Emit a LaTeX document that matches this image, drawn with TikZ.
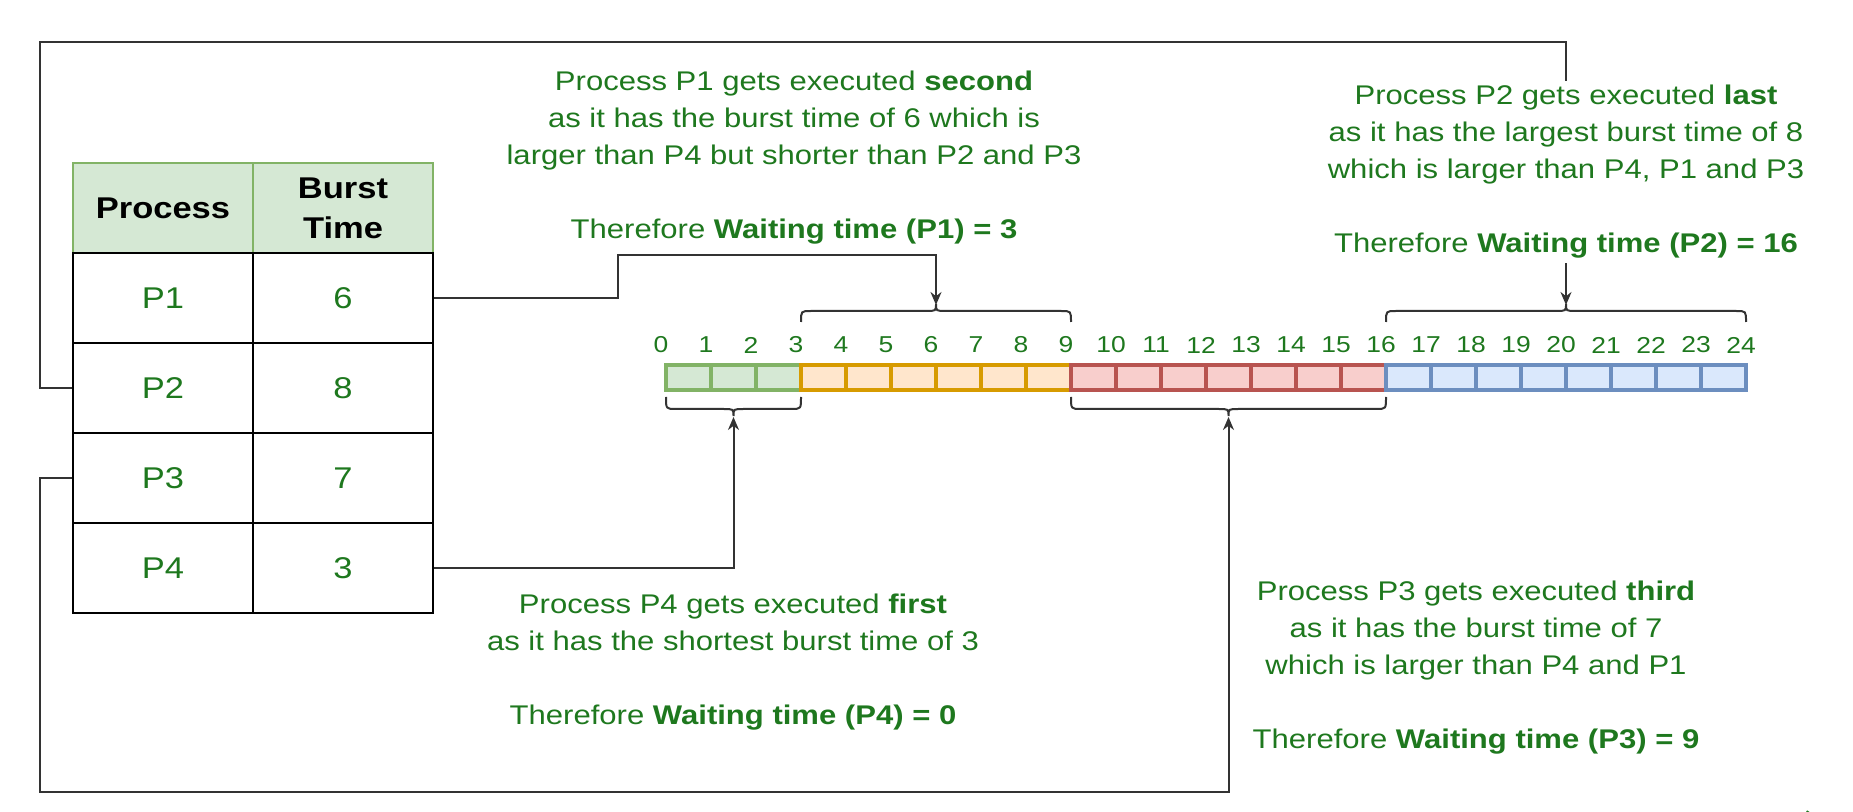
\documentclass[tikz,border=0pt]{standalone}
\usepackage{fontspec}
\setmainfont{Liberation Sans}[FakeStretch=1.15]
\usetikzlibrary{arrows.meta}
\definecolor{txtgreen}{RGB}{30,120,30}
\definecolor{gfill}{HTML}{D5E8D4}\definecolor{gdraw}{HTML}{82B366}
\definecolor{ofill}{HTML}{FFE6CC}\definecolor{odraw}{HTML}{D79B00}
\definecolor{rfill}{HTML}{F8CECC}\definecolor{rdraw}{HTML}{B85450}
\definecolor{bfill}{HTML}{DAE8FC}\definecolor{bdraw}{HTML}{6C8EBF}
\definecolor{linec}{HTML}{333333}
\begin{document}
\begin{tikzpicture}[x=0.5pt,y=-0.5pt,
  cell/.style={draw=black,line width=1.3pt,minimum width=90pt,minimum height=45pt,inner sep=0pt,
    font=\fontsize{15}{20}\selectfont,text=txtgreen,align=center},
  head/.style={cell,fill=gfill,draw=gdraw,text=black,font=\bfseries\fontsize{15}{20}\selectfont},
  tl/.style={minimum width=22.5pt,minimum height=12.5pt,inner sep=0pt,line width=1.7pt},
  num/.style={text=txtgreen,font=\fontsize{11.5}{13}\selectfont,inner sep=0pt},
  desc/.style={text=txtgreen,align=center,font=\fontsize{13.5}{18.5}\selectfont,inner sep=2pt},
  conn/.style={draw=linec,line width=1pt},
  arr/.style={conn,-{Stealth[length=6.5pt,width=5.5pt]}},
  br/.style={draw=linec,line width=1pt}]
\useasboundingbox (0,0) rectangle (1853,812);

% table
\node[head] (hp) at (163,208) {Process};
\node[head] (hb) at (343,208) {Burst\\Time};
\node[cell] (p1) at (163,298) {P1}; \node[cell] (b1) at (343,298) {6};
\node[cell] (p2) at (163,388) {P2}; \node[cell] (b2) at (343,388) {8};
\node[cell] (p3) at (163,478) {P3}; \node[cell] (b3) at (343,478) {7};
\node[cell] (p4) at (163,568) {P4}; \node[cell] (b4) at (343,568) {3};

% timeline
\foreach \i in {1,...,3} \node[tl,fill=gfill,draw=gdraw] (t\i) at (643.5+45*\i,377.5) {};
\foreach \i in {4,...,9} \node[tl,fill=ofill,draw=odraw] (t\i) at (643.5+45*\i,377.5) {};
\foreach \i in {10,...,16} \node[tl,fill=rfill,draw=rdraw] (t\i) at (643.5+45*\i,377.5) {};
\foreach \i in {17,...,24} \node[tl,fill=bfill,draw=bdraw] (t\i) at (643.5+45*\i,377.5) {};
\foreach \k in {0,...,24} \node[num] (n\k) at (661+45*\k,345) {\k};

% braces
\draw[br] (801,322) .. controls (801,311) .. (811,311) -- (926,311) .. controls (936,311) .. (936,304)
  .. controls (936,311) .. (946,311) -- (1061,311) .. controls (1071,311) .. (1071,322);
\draw[br] (1386,322) .. controls (1386,311) .. (1396,311) -- (1556,311) .. controls (1566,311) .. (1566,304)
  .. controls (1566,311) .. (1576,311) -- (1736,311) .. controls (1746,311) .. (1746,322);
\draw[br] (666,397) .. controls (666,409) .. (676,409) -- (723.5,409) .. controls (733.5,409) .. (733.5,416)
  .. controls (733.5,409) .. (743.5,409) -- (791,409) .. controls (801,409) .. (801,397);
\draw[br] (1071,397) .. controls (1071,409) .. (1081,409) -- (1218.5,409) .. controls (1228.5,409) .. (1228.5,416)
  .. controls (1228.5,409) .. (1238.5,409) -- (1376,409) .. controls (1386,409) .. (1386,397);
\coordinate (tipP1) at (936,305);
\coordinate (tipP2) at (1566,305);
\coordinate (tipP4) at (733.5,417);
\coordinate (tipP3) at (1228.5,417);

% descriptions
\node[desc] (dP1) at (794,158) {Process P1 gets executed \textbf{second}\\as it has the burst time of 6 which is\\larger than P4 but shorter than P2 and P3\\[18.5pt]Therefore \textbf{Waiting time (P1) = 3}};
\node[desc] (dP2) at (1566,172) {Process P2 gets executed \textbf{last}\\as it has the largest burst time of 8\\which is larger than P4, P1 and P3\\[18.5pt]Therefore \textbf{Waiting time (P2) = 16}};
\node[desc] (dP4) at (733,662) {Process P4 gets executed \textbf{first}\\as it has the shortest burst time of 3\\[18.5pt]Therefore \textbf{Waiting time (P4) = 0}};
\node[desc] (dP3) at (1476,667.5) {Process P3 gets executed \textbf{third}\\as it has the burst time of 7\\which is larger than P4 and P1\\[18.5pt]Therefore \textbf{Waiting time (P3) = 9}};

% connectors
\draw[arr] (b1.east) -| (618,255) -| (tipP1);
\draw[conn] (p2.west) -| (40,42) -| (dP2.north);
\draw[arr] (dP2.south) -- (tipP2);
\draw[arr] (p3.west) -| (40,792) -| (tipP3);
\draw[arr] (b4.east) -| (tipP4);

% partial logo
\draw[draw=txtgreen,line width=2pt] (1806,812) arc[start angle=160,end angle=20,x radius=36,y radius=12];
\end{tikzpicture}
\end{document}
